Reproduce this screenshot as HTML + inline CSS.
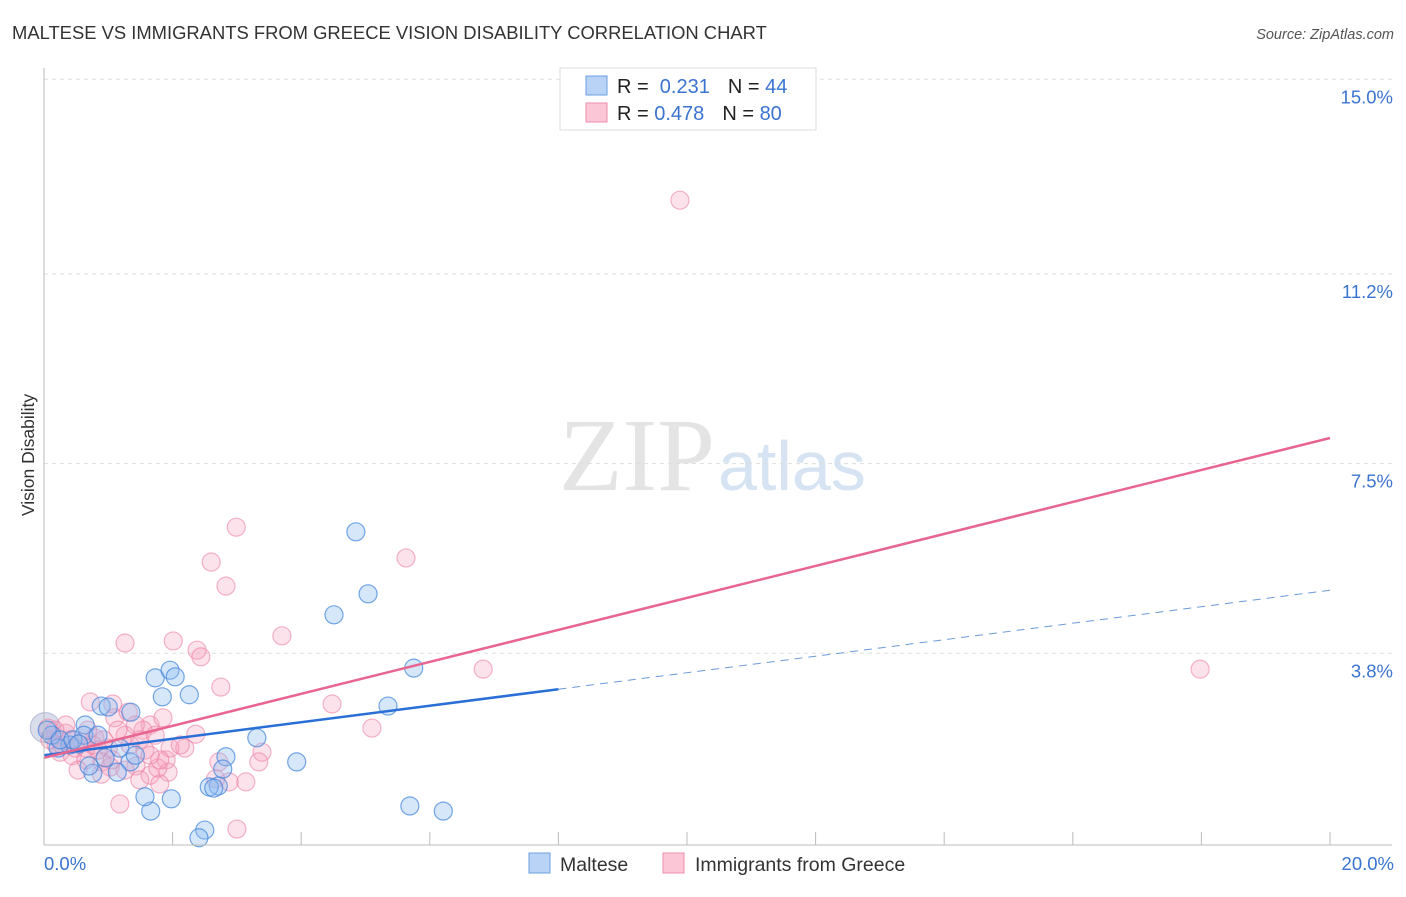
<!DOCTYPE html>
<html><head><meta charset="utf-8"><style>
body{margin:0;background:#fff;font-family:"Liberation Sans",sans-serif;}
</style></head><body>
<svg id="chart" width="1406" height="892" xmlns="http://www.w3.org/2000/svg">
<text x="12" y="39" font-size="18.4" fill="#333">MALTESE VS IMMIGRANTS FROM GREECE VISION DISABILITY CORRELATION CHART</text>
<text x="1394" y="39" font-size="14.5" fill="#555" font-style="italic" text-anchor="end">Source: ZipAtlas.com</text>
<text x="715" y="490" font-size="104" fill="#e4e4e4" font-family="Liberation Serif,serif" text-anchor="end">ZIP</text>
<text x="718" y="490" font-size="70" fill="#d6e3f3">atlas</text>
<text transform="translate(34,455) rotate(-90)" font-size="17.5" fill="#333" text-anchor="middle">Vision Disability</text>
<g id="grid"></g><g id="pts"></g><g id="lines"></g>
<line x1="44" y1="68" x2="44" y2="845" stroke="#bbb"/>
<line x1="44" y1="845" x2="1392" y2="845" stroke="#bbb"/>
<text x="44" y="870" font-size="18.5" fill="#3a74d0">0.0%</text>
<text x="1394" y="870" font-size="18.5" fill="#3a74d0" text-anchor="end">20.0%</text>
<g>
<rect x="560" y="68" width="256" height="62" fill="#fff" stroke="#ddd"/>
<rect x="586" y="76" width="21" height="19" fill="#b8d3f5" stroke="#6a9fe0"/>
<rect x="586" y="103" width="21" height="19" fill="#fbc7d6" stroke="#ec8eab"/>
<text x="617" y="93" font-size="20" fill="#222">R = <tspan fill="#3a74d0">&#160;0.231</tspan><tspan dx="18">N = </tspan><tspan fill="#3a74d0">44</tspan></text>
<text x="617" y="120" font-size="20" fill="#222">R = <tspan fill="#3a74d0">0.478</tspan><tspan dx="18">N = </tspan><tspan fill="#3a74d0">80</tspan></text>
</g>
<g>
<rect x="529" y="853" width="21" height="20" fill="#b8d3f5" stroke="#6a9fe0"/>
<text x="560" y="871" font-size="19.5" fill="#333">Maltese</text>
<rect x="663" y="853" width="21" height="20" fill="#fbc7d6" stroke="#ec8eab"/>
<text x="695" y="871" font-size="19.5" fill="#333">Immigrants from Greece</text>
</g>
</svg>
<script>
const yTicks=[3.8,7.5,11.2,15.0];
const xTicks=[2,4,6,8,10,12,14,16,18,20];
const blueX=[4.85,5.04,4.51,5.75,5.35,3.93,3.31,2.83,2.78,2.71,2.57,2.64,2.50,2.41,5.69,6.21,1.66,1.57,1.98,1.84,2.26,1.73,1.96,2.04,1.35,0.89,1.00,0.64,0.62,0.84,0.95,1.18,1.34,1.42,0.76,1.14,0.70,0.40,0.22,0.12,0.05,0.25,0.45,0.54];
const blueY=[6.17,4.96,4.55,3.51,2.77,1.68,2.15,1.78,1.54,1.21,1.19,1.17,0.35,0.20,0.82,0.72,0.72,1.00,0.96,2.95,2.99,3.32,3.47,3.34,2.65,2.77,2.75,2.40,2.20,2.20,1.76,1.95,1.68,1.81,1.46,1.48,1.60,2.01,1.95,2.20,2.30,2.11,2.11,2.03];
const pinkX=[9.89,2.99,2.60,5.63,2.83,3.70,1.26,2.01,2.38,2.44,2.75,6.83,17.98,4.48,5.10,0.72,1.07,1.10,1.65,1.85,1.54,1.73,2.19,2.36,1.49,1.26,1.34,1.00,0.79,0.59,0.34,0.25,0.44,0.65,0.90,1.03,1.43,1.26,1.65,1.90,1.93,1.49,1.80,2.72,2.67,2.88,3.14,3.39,3.34,1.18,3.00,0.89,0.53,0.19,0.09,0.28,0.48,0.76,1.15,0.93,0.68,0.40,0.84,1.06,1.57,1.77,1.96,2.12,1.31,1.42,0.34,0.17,1.80,0.65,0.06,1.65];
const pinkY=[12.64,6.26,5.58,5.66,5.11,4.14,4.00,4.04,3.86,3.73,3.14,3.49,3.49,2.81,2.34,2.85,2.81,2.54,2.40,2.54,2.30,2.20,1.95,2.22,2.11,2.20,2.01,1.95,2.15,2.07,2.24,1.87,1.80,1.72,1.68,1.58,1.60,1.52,1.42,1.72,1.48,1.33,1.25,1.68,1.35,1.29,1.29,1.87,1.68,0.86,0.37,1.44,1.52,2.01,2.11,2.01,1.95,2.01,2.30,2.11,2.30,2.11,1.91,1.72,1.91,1.56,1.95,2.01,2.65,2.40,2.40,2.30,1.72,1.95,2.34,1.81];
const blueTrend=[1.81,5.03];
const pinkTrend=[1.76,8.0];
const X=v=>44+v*64.3, Y=v=>848-v*51.25;
const NS='http://www.w3.org/2000/svg';
function mk(tag,attrs,parent){const e=document.createElementNS(NS,tag);for(const k in attrs)e.setAttribute(k,attrs[k]);document.getElementById(parent).appendChild(e);return e;}
yTicks.forEach(t=>{
 const l=mk('line',{x1:44,x2:1392,y1:Y(t),y2:Y(t),stroke:'#ddd','stroke-dasharray':'4,4'},'grid');
 
 
 const tx=mk('text',{x:1393,y:Y(t)+24,'font-size':18.5,fill:'#3a74d0','text-anchor':'end'},'grid');
 tx.textContent=t.toFixed(1)+'%';
 
 
});
xTicks.forEach(t=>{
 const l=mk('line',{x1:X(t),x2:X(t),y1:832,y2:845,stroke:'#bbb'},'grid');
 
 
});
const big=mk('circle',{cx:X(0.02),cy:Y(2.35),r:15,fill:'rgba(150,160,200,0.35)',stroke:'rgba(140,150,190,0.6)'},'pts');


pinkX.forEach((v,i)=>{
 const c=mk('circle',{cx:X(v),cy:Y(pinkY[i]),r:9,fill:'rgba(246,160,188,0.3)',stroke:'rgba(236,130,165,0.6)','stroke-width':1.2},'pts');
 
 
});
blueX.forEach((v,i)=>{
 const c=mk('circle',{cx:X(v),cy:Y(blueY[i]),r:9,fill:'rgba(140,185,240,0.35)',stroke:'rgba(60,130,220,0.7)','stroke-width':1.2},'pts');
 
 
});
const by=x=>blueTrend[0]+(blueTrend[1]-blueTrend[0])*x/20;
const b1=mk('line',{x1:X(0),y1:Y(by(0)),x2:X(8),y2:Y(by(8)),stroke:'#2a6fd6','stroke-width':2.5},'lines');


const b2=mk('line',{x1:X(8),y1:Y(by(8)),x2:X(20),y2:Y(by(20)),stroke:'#6a9ad8','stroke-width':1,'stroke-dasharray':'8,6'},'lines');


const p1=mk('line',{x1:X(0),y1:Y(pinkTrend[0]),x2:X(20),y2:Y(pinkTrend[1]),stroke:'#e8658f','stroke-width':2.5},'lines');


</script>
</body></html>
